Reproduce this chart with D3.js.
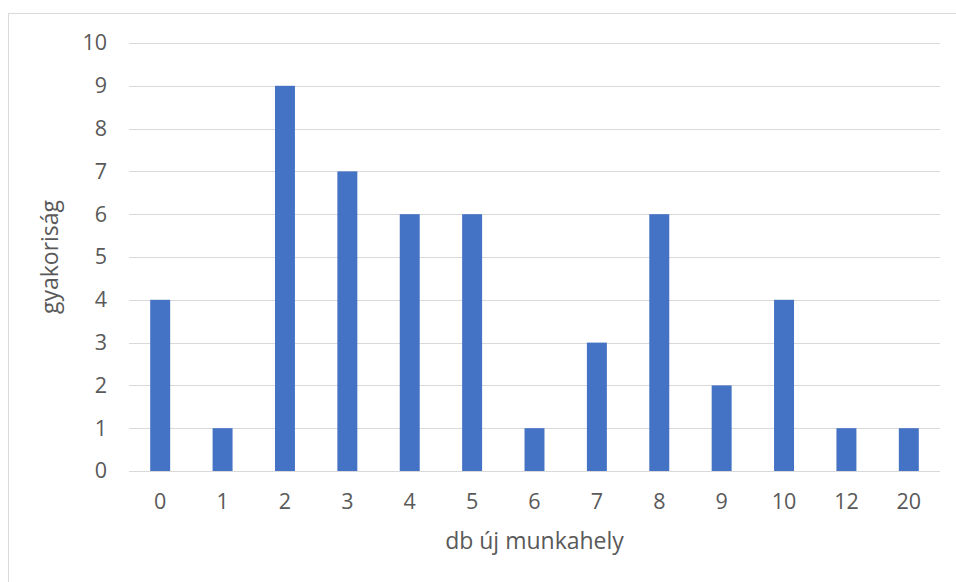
<!DOCTYPE html>
<html>
<head>
<meta charset="utf-8">
<script src="https://cdn.jsdelivr.net/npm/d3@7"></script>
<style>
	body { margin: 0; background: #fff; }
	svg text { font-family: 'Open Sans', 'Noto Sans', sans-serif; fill: #595959; }
</style>
</head>
<body>
<main></main>
<script>
	const categories = ['0', '1', '2', '3', '4', '5', '6', '7', '8', '9', '10', '12', '20']
	const counts = [4, 1, 9, 7, 6, 6, 1, 3, 6, 2, 4, 1, 1]
	const yTicks = [0, 1, 2, 3, 4, 5, 6, 7, 8, 9, 10]

	const width = 956
	const height = 582
	const margin = { top: 43, right: 16, bottom: 111, left: 129 }

	const svg = d3.select('main')
		.append('svg')
		.attr('width', width)
		.attr('height', height)

	// chart frame
	svg.append('rect')
		.attr('x', 8.5)
		.attr('y', 13.5)
		.attr('width', width)
		.attr('height', height)
		.attr('fill', 'none')
		.attr('stroke', '#d9d9d9')

	const xScale = d3.scaleBand()
		.domain(categories)
		.range([margin.left, width - margin.right])
		.paddingInner(0.68)
		.paddingOuter(0.34)

	const yScale = d3.scaleLinear()
		.domain([0, 10])
		.range([height - margin.bottom, margin.top])

	// gridlines
	svg.append('g')
		.selectAll('line')
		.data(yTicks)
		.enter()
		.append('line')
		.attr('x1', margin.left)
		.attr('x2', width - margin.right)
		.attr('y1', d => Math.round(yScale(d)) + 0.5)
		.attr('y2', d => Math.round(yScale(d)) + 0.5)
		.attr('stroke', '#d9d9d9')
		.attr('stroke-width', 1)

	// y-axis labels
	const yAxis = d3.axisLeft(yScale)
		.tickValues(yTicks)
		.tickSize(0)
		.tickPadding(22)

	svg.append('g')
		.attr('transform', `translate(${margin.left},0)`)
		.call(yAxis)
		.call(g => g.select('.domain').remove())
		.selectAll('text')
		.style('font-size', '21.5px')

	// bars
	svg.append('g')
		.selectAll('rect')
		.data(counts)
		.enter()
		.append('rect')
		.attr('x', (d, i) => xScale(categories[i]))
		.attr('y', d => yScale(d))
		.attr('width', xScale.bandwidth())
		.attr('height', d => yScale(0) - yScale(d))
		.attr('fill', '#4472c4')

	// x-axis labels
	const xAxis = d3.axisBottom(xScale)
		.tickSize(0)
		.tickPadding(23)

	svg.append('g')
		.attr('transform', `translate(0,${yScale(0)})`)
		.call(xAxis)
		.call(g => g.select('.domain').remove())
		.selectAll('text')
		.style('font-size', '21.5px')

	// axis titles
	svg.append('text')
		.attr('x', (margin.left + width - margin.right) / 2)
		.attr('y', 549)
		.attr('text-anchor', 'middle')
		.style('font-size', '23px')
		.text('db új munkahely')

	svg.append('text')
		.attr('transform', `translate(58,${(yScale(0) + yScale(10)) / 2}) rotate(-90)`)
		.attr('text-anchor', 'middle')
		.style('font-size', '23px')
		.text('gyakoriság')
</script>
</body>
</html>
